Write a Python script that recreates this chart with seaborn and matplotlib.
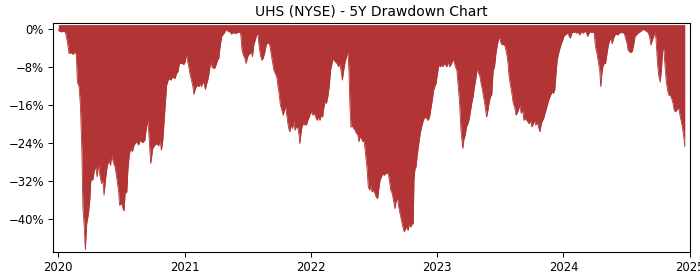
import matplotlib
matplotlib.use("Agg")
import matplotlib.pyplot as plt
import matplotlib.dates as mdates
from matplotlib.ticker import FixedLocator, FuncFormatter
import pandas as pd
import seaborn as sns

TITLE = "UHS (NYSE) - 5Y Drawdown Chart"
START = "2020-01-01"
Y_TICKS = [0, -8, -16, -24, -32, -40]
FILL_COLOR = "#b33434"

# (days since 2020-01-01, drawdown in %)
dd_2020 = [
    (1, 0.0), (3, -0.35), (10, -0.56), (16, -0.35), (22, -0.7), (28, -3.0), (32, -5.1),
    (39, -4.9), (43, -5.3), (49, -4.7), (53, -5.4), (56, -11.1), (61, -12.1), (65, -16.3),
    (69, -25.5), (72, -37.5), (76, -41.7), (79, -46.5), (83, -41.0), (88, -38.9), (92, -36.0),
    (95, -31.8), (101, -31.7), (105, -29.7), (109, -29.0), (113, -31.1), (117, -28.3),
    (121, -30.8), (126, -32.5), (130, -31.8), (133, -35.0), (137, -31.8), (142, -29.0),
    (147, -27.6), (152, -28.7), (155, -26.5), (160, -28.0), (165, -29.0), (170, -31.5),
    (175, -33.9), (178, -37.1), (183, -36.6), (188, -37.8), (191, -38.3), (194, -34.6),
    (199, -34.3), (202, -29.7), (206, -26.5), (210, -25.1), (215, -25.8), (220, -24.4),
    (227, -23.7), (233, -24.4), (238, -23.4), (245, -23.9), (251, -23.4), (256, -20.6),
    (259, -19.2), (262, -21.3), (268, -28.3), (274, -25.1), (280, -24.4), (286, -24.1),
    (291, -24.6), (295, -23.4), (299, -25.5), (303, -23.4), (307, -19.2), (311, -14.9),
    (314, -11.8), (320, -10.4), (326, -10.7), (332, -10.0), (338, -10.4), (343, -9.3),
    (347, -8.9), (351, -7.2), (357, -7.2), (364, -7.4),
]
dd_2021 = [
    (368, -6.8), (371, -5.1), (374, -6.5), (378, -7.9), (382, -9.6), (386, -10.7),
    (390, -12.1), (393, -13.7), (397, -12.5), (402, -11.8), (407, -12.1), (411, -11.4),
    (415, -12.1), (418, -11.1), (422, -11.4), (426, -12.7), (430, -11.4), (434, -10.4),
    (438, -8.6), (442, -6.5), (445, -7.9), (449, -8.2), (453, -8.2), (457, -7.5), (461, -6.5),
    (465, -6.1), (468, -4.0), (473, -1.5), (476, -1.2), (480, -0.85), (484, -0.3), (488, 0.0),
    (492, -0.5), (497, -0.5), (501, -1.0), (507, -0.7), (513, -0.85), (519, -0.7),
    (525, -0.56), (528, -0.85), (532, -4.4), (536, -5.4), (540, -6.1), (544, -7.2),
    (548, -5.8), (551, -5.4), (555, -5.1), (559, -4.7), (562, -5.8), (566, -3.3), (570, -2.3),
    (574, -1.2), (578, -1.0), (581, -3.3), (585, -5.4), (589, -6.5), (593, -6.1), (597, -5.1),
    (601, -3.7), (604, -3.0), (608, -2.8), (612, -3.3), (616, -5.1), (620, -6.8), (624, -8.6),
    (628, -9.3), (632, -9.9), (635, -11.4), (639, -13.5), (643, -16.0), (647, -17.0),
    (651, -18.1), (655, -17.0), (658, -16.3), (662, -18.5), (666, -20.6), (670, -21.6),
    (674, -20.2), (678, -20.9), (682, -19.2), (685, -21.3), (689, -20.6), (693, -20.6),
    (697, -22.3), (699, -24.1), (703, -21.6), (707, -19.9), (711, -20.2), (714, -19.9),
    (718, -20.2), (722, -19.2), (726, -18.5), (730, -17.7),
]
dd_2022 = [
    (734, -17.4), (737, -18.1), (741, -17.7), (745, -18.5), (749, -19.2), (753, -18.5),
    (757, -19.2), (761, -18.1), (765, -18.5), (768, -16.7), (772, -15.3), (776, -15.6),
    (780, -14.2), (784, -12.1), (788, -8.6), (792, -7.2), (795, -6.3), (799, -6.6), (803, -7.0),
    (807, -7.2), (811, -7.9), (815, -7.2), (818, -8.6), (822, -10.7), (826, -8.6), (830, -6.8),
    (834, -5.8), (838, -4.7), (841, -8.6), (844, -16.3), (847, -20.6), (851, -20.4),
    (855, -20.9), (859, -21.3), (863, -22.0), (866, -22.0), (870, -23.7), (873, -22.7),
    (877, -23.0), (881, -23.7), (885, -23.4), (889, -26.2), (893, -29.0), (897, -33.2),
    (901, -33.9), (904, -32.9), (908, -34.3), (912, -33.9), (916, -34.6), (920, -35.4),
    (924, -35.7), (927, -33.9), (931, -31.8), (935, -31.1), (939, -30.4), (943, -30.8),
    (947, -30.4), (951, -30.4), (954, -30.1), (958, -31.8), (962, -33.9), (966, -34.6),
    (970, -36.1), (974, -37.8), (977, -36.4), (981, -35.4), (985, -37.5), (989, -38.9),
    (993, -40.3), (997, -41.7), (1001, -42.7), (1005, -42.0), (1008, -41.7), (1012, -42.4),
    (1016, -41.0), (1020, -41.7), (1024, -41.0), (1027, -41.0), (1029, -31.8), (1032, -29.4),
    (1035, -29.0), (1039, -26.2), (1043, -24.1), (1047, -22.0), (1051, -20.6), (1055, -19.5),
    (1058, -18.8), (1063, -18.5), (1066, -18.8), (1070, -19.2), (1074, -18.5), (1078, -16.7),
    (1082, -14.9), (1086, -12.8), (1089, -12.1), (1093, -11.4),
]
dd_2023 = [
    (1097, -9.3), (1101, -7.5), (1105, -7.9), (1109, -7.5), (1113, -7.9), (1116, -7.2),
    (1120, -7.5), (1124, -7.9), (1128, -6.8), (1132, -7.9), (1138, -7.2), (1142, -6.3),
    (1145, -6.8), (1149, -7.9), (1153, -8.6), (1157, -12.1), (1161, -15.6), (1165, -21.3),
    (1170, -25.1), (1173, -23.4), (1177, -22.3), (1181, -20.6), (1185, -19.9), (1189, -18.8),
    (1193, -17.0), (1196, -15.6), (1200, -14.2), (1204, -12.1), (1208, -10.4), (1212, -8.2),
    (1216, -9.3), (1220, -10.0), (1223, -11.4), (1227, -12.8), (1231, -14.6), (1235, -16.3),
    (1239, -18.5), (1243, -17.0), (1246, -15.6), (1250, -14.2), (1254, -13.8), (1258, -8.6),
    (1262, -7.9), (1266, -5.1), (1270, -3.3), (1274, -1.9), (1277, -1.9), (1281, -3.0),
    (1285, -3.3), (1289, -3.1), (1293, -3.7), (1297, -5.1), (1301, -7.2), (1304, -10.0),
    (1308, -11.8), (1312, -13.5), (1316, -15.6), (1320, -16.3), (1324, -18.1), (1327, -17.7),
    (1331, -17.0), (1335, -16.0), (1339, -17.7), (1343, -17.0), (1347, -19.2), (1351, -18.8),
    (1355, -19.2), (1358, -19.5), (1362, -19.9), (1366, -19.2), (1370, -20.6), (1374, -19.9),
    (1378, -19.2), (1381, -20.2), (1385, -19.5), (1389, -20.6), (1393, -21.6), (1397, -19.9),
    (1401, -19.2), (1405, -18.5), (1408, -17.7), (1412, -16.7), (1416, -15.6), (1420, -14.6),
    (1424, -13.9), (1428, -13.2), (1432, -13.5), (1436, -12.8), (1439, -10.0), (1443, -6.5),
    (1447, -5.1), (1451, -4.0), (1455, -3.0), (1459, -2.3),
]
dd_2024 = [
    (1462, -1.5), (1466, -1.2), (1470, -1.0), (1474, -0.7), (1477, -1.4), (1481, -1.9),
    (1485, -0.85), (1489, -0.5), (1492, -0.7), (1496, -0.5), (1500, -0.85), (1504, -0.5),
    (1508, -1.2), (1512, -0.7), (1515, -0.5), (1519, -0.85), (1523, -0.3), (1527, -0.7),
    (1531, -1.5), (1535, -0.85), (1539, -0.5), (1543, -0.7), (1546, -0.5), (1550, -0.85),
    (1554, -3.7), (1558, -5.1), (1562, -6.8), (1566, -8.6), (1569, -12.1), (1571, -10.0),
    (1575, -7.9), (1579, -7.2), (1583, -7.2), (1587, -5.1), (1591, -3.3), (1595, -2.3),
    (1598, -1.9), (1602, -3.0), (1606, -1.9), (1610, -1.2), (1614, -1.0), (1618, -1.2),
    (1622, -0.85), (1625, -0.7), (1633, -0.7), (1637, -0.85), (1641, -1.9), (1645, -3.0),
    (1648, -4.4), (1652, -4.7), (1656, -4.9), (1660, -4.7), (1664, -3.3), (1668, -1.5),
    (1672, -1.2), (1676, -0.85), (1679, -0.7), (1683, -0.5), (1687, -0.3), (1691, 0.0),
    (1695, -0.15), (1699, -0.3), (1703, -0.5), (1706, -0.7), (1710, -1.5), (1714, -3.3),
    (1718, -2.3), (1722, -1.5), (1726, -0.5), (1729, -2.3), (1733, -7.2), (1737, -10.0),
    (1741, -11.1), (1745, -7.9), (1748, -4.4), (1751, -4.0), (1755, -7.9), (1758, -10.7),
    (1762, -12.8), (1766, -13.9), (1770, -13.9), (1774, -14.6), (1778, -15.6), (1781, -17.0),
    (1785, -17.4), (1789, -17.0), (1793, -16.3), (1797, -17.7), (1801, -19.2), (1805, -20.6),
    (1809, -22.7), (1812, -24.8),
]

sns.set_style("ticks", rc={
    "axes.edgecolor": "black", "xtick.color": "black", "ytick.color": "black",
    "text.color": "black", "axes.labelcolor": "black",
})
plt.rcParams["font.family"] = ["DejaVu Sans"]

df = pd.DataFrame(dd_2020 + dd_2021 + dd_2022 + dd_2023 + dd_2024, columns=["day", "drawdown"])
df["date"] = pd.Timestamp(START) + pd.to_timedelta(df["day"], unit="D")

fig = plt.figure(figsize=(7, 2.8), dpi=100)
ax = fig.add_axes([0.0764, 0.101, 0.9093, 0.818])

ax.fill_between(df["date"], df["drawdown"], 1.0, color=FILL_COLOR, linewidth=0)
sns.lineplot(data=df, x="date", y="drawdown", ax=ax, color=FILL_COLOR, linewidth=0.6)

ax.set_xlim(pd.Timestamp("2019-12-19"), pd.Timestamp("2025-01-01"))
ax.set_ylim(-46.9, 1.4)
ax.yaxis.set_major_locator(FixedLocator(Y_TICKS))
ax.yaxis.set_major_formatter(FuncFormatter(lambda v, p: f"{v:.0f}%".replace("-", "\u2212")))
ax.xaxis.set_major_locator(mdates.YearLocator())
ax.xaxis.set_major_formatter(mdates.DateFormatter("%Y"))
ax.set_xlabel("")
ax.set_ylabel("")
ax.tick_params(labelsize=8.4, length=3.3, width=0.7, pad=3.5)
for s in ax.spines.values():
    s.set_linewidth(0.8)
    s.set_visible(True)
ax.set_title(TITLE, fontsize=10, pad=5)

fig.savefig("out.png", dpi=100)
